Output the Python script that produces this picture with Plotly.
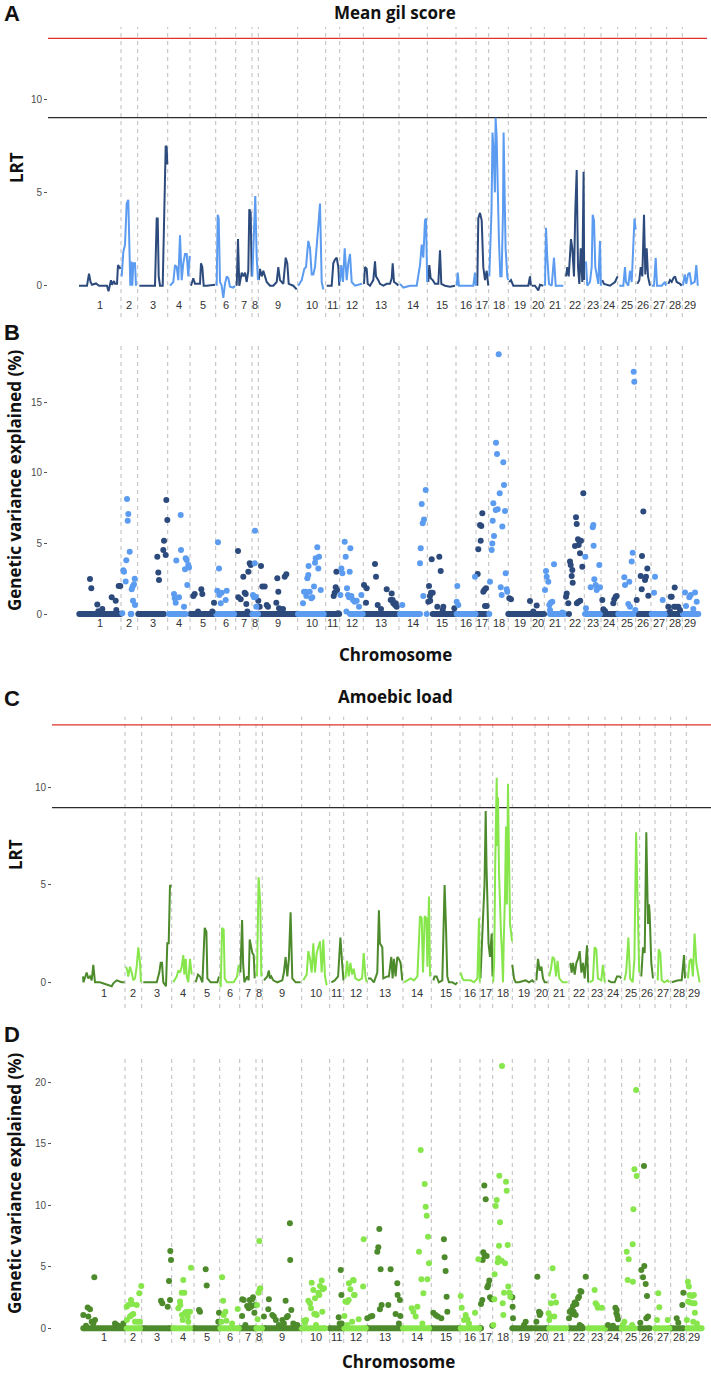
import plotly.graph_objects as go

# ---------------- data ----------------
chrom_names = ["1", "2", "3", "4", "5", "6", "7", "8", "9", "10", "11", "12", "13", "14", "15",
               "16", "17", "18", "19", "20", "21", "22", "23", "24", "25", "26", "27", "28", "29"]
chrom_lengths = [42, 16.7, 30, 22.3, 25.7, 20, 16.3, 6.3, 39.4, 28, 14, 23.6, 35.7, 28.3, 28.7,
                 20, 12.7, 19.6, 22.7, 13.3, 20.7, 19.3, 16.7, 16.7, 18, 15.3, 15.7, 15.6, 15.7]
chrom_shade = [0, 1, 0, 1, 0, 1, 0, 1, 0, 1, 0, 1, 0, 1, 0, 1, 0, 1, 0, 0, 1, 0, 1, 0, 1, 0, 1, 0, 1]

gill_thresholds = [13.25, 9.0]
amoeba_thresholds = [13.22, 8.97]

# Panel A: LRT, mean gill score  (position within chromosome, LRT)
gill_lrt = [
    [(0, 0), (8, 0), (10, 0.65), (11.5, 0.2), (13, 0.05), (17, 0.12), (20, 0), (28, 0), (29.5, -0.3), (31, 0.05), (32, 0.3), (33, 0.05), (35, 0.25), (36, 0.1), (38, 0.1), (39, 1.1), (40.5, 1.0), (41.5, 0.9)],
    [(0.7, 0.5), (2.3, 1.8), (4, 2.2), (5.7, 4.4), (7.3, 4.6), (8.3, 1.3), (9.3, 0), (10.3, 1.3), (11.3, 0), (12.3, 1.2), (14, 1.2), (15, 0)],
    [(1.6, 0), (17.3, 0), (19, 3.6), (20, 3.6), (21, 0.5), (22.3, 0), (25, 0), (26.3, 3.2), (28, 7.5), (29, 7.4), (29.6, 6.5)],
    [(2.3, 0), (5.6, 0.2), (7.3, 1.1), (9, 1.0), (10.6, 0.3), (12.3, 2.7), (14, 0.3), (15.6, 1.2), (17.3, 1.7), (19, 1.7), (20.6, 0.5), (22, 1.6)],
    [(1, 0), (3.3, 0.4), (5, 0.1), (10, 0.1), (11, 1.2), (12.3, 1.0), (13.7, 0), (16.7, 0), (25, 0.05)],
    [(1, 0), (2, 3.8), (3, 3.6), (4.3, 0.2), (6, 0), (7.6, -0.65), (9.3, 0.1), (11, 0.5), (12.6, 0.4), (14.3, -0.05), (17.6, -0.1), (19.3, 0)],
    [(1, 0), (2.3, 2.5), (3.6, 0), (6, 0.7), (7.6, 0.5), (9.3, 0.7), (11, 0.2), (12.6, 0.8), (13.6, 4.1), (15, 3.9), (16, 0.5)],
    [(0.3, 0.5), (1.3, 2.0), (2.3, 3.5), (3.3, 4.8), (4.7, 1.5), (6, 0.3)],
    [(0.4, 0.3), (1.7, 0.9), (3.4, 0.5), (5, 0.8), (6.7, 0.5), (8.4, 0.2), (11.7, 0), (15, 0), (18.4, 0.2), (20, 1.0), (21.7, 0.3), (23.4, 0.2), (25, 0.1), (27.4, 1.5), (29, 1.2), (30.4, 0.1), (35, 0), (38.4, -0.2)],
    [(0.6, 0), (4, 0.3), (6.6, 0.9), (8.3, 1.0), (10.6, 2.4), (12.3, 2.0), (14, 0.6), (15.6, 0.6), (17.3, 1.0), (19, 2.0), (20.6, 3.2), (22.3, 4.4), (24, 0.2), (25.6, -0.2)],
    [(1, 0), (6, 0), (7.6, 1.2), (9.3, 1.4), (11, 1.5), (12.6, 1.0), (13.6, 0)],
    [(0.3, 0.2), (1.6, 1.1), (3.3, 0.2), (5, 2.0), (7, 0.3), (8.6, 1.2), (10.3, 1.7), (12, 0.2), (15.3, 0), (20.3, 0.1), (22.3, 0.1)],
    [(0.7, 0.1), (1.7, 1.0), (3.4, 0.9), (4.4, 0.1), (6.7, 0), (10, 0.3), (11.7, 1.3), (12.7, 0.5), (15, 0.3), (16.7, 0.1), (20, 0), (23.4, 0.1), (26.7, 0.1), (28.4, 0.4), (29.4, 1.2), (30.7, 0.2), (33.4, 0.1), (35, 0)],
    [(1, 0.1), (4.3, -0.1), (11, 0), (17.7, 0), (21, 1.1), (22.7, 2.2), (24.3, 1.5), (26, 3.5), (27, 3.6), (28.2, 0.2)],
    [(1, 0.2), (2, 1.1), (3.4, 0.4), (5.4, 0.3), (7.7, 0.1), (11, 0.1), (12.7, 1.9), (14, 0.1), (17.7, 0), (22.7, -0.05), (27.7, 0)],
    [(0.7, 0), (1.7, 0.7), (3, 0), (7.3, 0), (17.3, 0), (19, 0.7), (19.8, 0)],
    [(1.3, 0), (2.3, 3.6), (4, 3.9), (5.7, 3.5), (7.3, 1.0), (9, 0.3), (10.7, 0.8), (12.3, 0)],
    [(0.6, 0.5), (2.8, 4.0), (3.8, 8.2), (4.8, 7.3), (6.2, 5.0), (6.9, 9.0), (7.9, 8.0), (9.2, 4.0), (10.2, 2.5), (11.6, 0.5), (12.9, 0.5), (14.3, 4.0), (14.9, 8.2), (15.9, 5.0), (16.9, 2.0), (18.6, 0.5), (19.4, 0.3)],
    [(1, 0.2), (2.7, 0.3), (5, 0), (8.4, 0), (15, 0), (20, 0), (21.7, 0.5), (22.6, 0)],
    [(0.7, 0), (4, 0), (7.3, -0.25), (9, 0.05), (12.3, 0)],
    [(0.7, 0), (1.7, 3.1), (3, 1.5), (4.7, 0.1), (7.4, 0), (9.7, 1.5), (11.4, 0), (14, 0), (19, 0)],
    [(1, 0.5), (2.3, 1.0), (3.7, 0.5), (5, 1.5), (6, 2.5), (7.3, 2.0), (9, 0.5), (10.3, 4.0), (11.7, 6.2), (13, 1.0), (14.3, 0.1), (15.7, 2.0), (17.3, 0.2), (18.6, 6.1), (19.2, 0.3)],
    [(1.7, 1.3), (3, 0), (5.7, 0.2), (7.4, 1.0), (8.4, 3.8), (9.7, 3.5), (11, 1.0), (12.4, 0.5), (14, 0.1), (15.7, 2.4), (16.6, 0)],
    [(1.3, 0.3), (3, 0.1), (9, 0), (14, 0.2), (16.6, 0.5)],
    [(1.6, 0), (5.6, 0), (7.3, 1.0), (8.3, 0.2), (10.6, 0), (12.3, 0.8), (14, 0.2), (15.6, 2.5), (16.8, 3.6), (17.9, 3.0)],
    [(1.6, 0.1), (3.6, 0.3), (5, 1.0), (6.6, 0.5), (8.3, 3.8), (9.6, 0.6), (11, 2.0), (12.3, 0.5), (14.3, 0)],
    [(0.7, 0), (3, 0), (4.7, 1.5), (6, 0), (10.7, 0), (14, 0.2), (15, 0)],
    [(1.6, 0.1), (3.3, 0.3), (5, 0.2), (6.6, 0.4), (8.3, 0.5), (10, 0.2), (13.3, 0.1), (15, 0)],
    [(0.7, 0), (2.4, 0.6), (4, 0.1), (5.7, 0.6), (7.4, 0.7), (9, 0.1), (12.4, 0.2), (14, 1.1), (15.5, 0)],
]

# Panel B: genetic variance explained (%), gill score
gill_var = [
    [(11, 2.48), (12.3, 1.82), (18.3, 0.68), (19.3, 0.2), (23.3, 0.35), (32.7, 1.18), (36.7, 0.94), (37.3, 0.28), (39.7, 1.98), (41.3, 1.98)],
    [(1.3, 0.05), (2.3, 3.1), (3, 3.0), (4.7, 2.3), (5.3, 3.8), (6, 8.15), (6.7, 6.6), (7.3, 7.08), (8.7, 4.4), (10, 0), (10.7, 1.75), (11.7, 1.94), (12, 0.94), (13, 2.1), (13.7, 2.5), (14, 0.64)],
    [(19.6, 4.06), (20.6, 2.93), (21.3, 2.41), (25.6, 4.53), (26.3, 5.19), (28, 4.18), (28.6, 8.07), (29.6, 6.66)],
    [(6.3, 1.42), (7, 1.11), (8, 0.8), (8.6, 3.78), (11.3, 1.18), (13, 7.01), (13.3, 4.53), (16.3, 0.52), (17.3, 3.16), (18, 3.94), (19, 3.82), (19.6, 2.05), (20.6, 3.47), (21.3, 3.3)],
    [(3.3, 1.27), (4.7, 1.42), (8, 0.17), (11.3, 1.75), (12.3, 1.42), (22.3, 0.17), (24, 0.8)],
    [(1.6, 1.65), (2.3, 5.08), (3.3, 3.23), (3.6, 1.35), (5, 0.76), (6, 1.51), (10, 1.0), (11, 1.65)],
    [(2.3, 4.46), (2.6, 1.18), (5, 1.04), (7.6, 2.64), (9, 1.51), (10, 1.42), (10.6, 0.71), (11.6, 0.17), (12.6, 3.0), (14, 3.59), (15, 3.47)],
    [(1, 1.35), (2, 1.18), (2.7, 3.59), (3, 5.9), (3.7, 1.23), (4.3, 0.52)],
    [(0, 0.94), (1.4, 0.52), (2.7, 3.4), (4, 1.94), (6.4, 1.94), (8.4, 0.64), (9.7, 0.52), (18, 0.8), (19, 2.53), (20, 1.58), (20.7, 0.4), (24.7, 0.35), (26.4, 2.64), (28, 2.81)],
    [(5.3, 0.76), (6.3, 1.58), (8, 1.58), (8.6, 1.27), (9.6, 2.53), (10.6, 2.76), (10.9, 3.4), (12, 1.58), (13.6, 1.11), (14.6, 1.18), (16.3, 1.94), (17.3, 3.63), (18, 3.94), (19.6, 4.72), (20.6, 3.23), (21.3, 4.06), (23, 1.7)],
    [(8, 1.27), (9, 1.51), (10, 1.89), (10.7, 3.0), (11.3, 1.7), (12.3, 0.05)],
    [(0.7, 1.35), (1.7, 3.23), (2.7, 2.88), (5, 5.12), (6, 4.06), (6.7, 0.17), (7.3, 1.82), (8.3, 1.35), (9.3, 1.18), (10, 3.0), (10.7, 4.65), (11.7, 1.27), (13.3, 1.0), (15, 0.87), (17, 0.94), (19.3, 0.52), (21.7, 1.35)],
    [(0.7, 2.05), (2.7, 0.8), (3.4, 1.82), (11.7, 3.54), (12.7, 2.64), (14.4, 0.64), (17.7, 0.35), (23.4, 1.75), (27.4, 1.0), (28.4, 1.46), (29.4, 1.0), (30, 0.76), (31.7, 0.64), (32.4, 0.76), (33.4, 0.52)],
    [(3.3, 0.64), (21, 3.59), (21.7, 4.65), (22.7, 7.79), (23.7, 6.42), (24.3, 1.27), (25, 6.7), (26.7, 8.78), (27.7, 0)],
    [(1, 0.87), (1.7, 1.98), (2.7, 1.27), (2.9, 0.94), (3.7, 1.51), (4.4, 3.87), (5.4, 1.51), (10, 0.52), (12, 4.06), (13.4, 3.05), (15.4, 0.28), (16, 0.52), (27, 0.4)],
    [(0.7, 0.87), (1.3, 1.98), (2.3, 0.64), (19, 2.64)],
    [(1.7, 2.83), (2.3, 4.58), (4, 6.3), (4.7, 5.19), (5.3, 6.23), (6.3, 7.13), (7.3, 1.58), (8.3, 1.7), (9, 0.57), (10, 1.82), (10.7, 0.57)],
    [(0.6, 0), (1.3, 2.29), (3, 4.53), (3.6, 5.0), (4, 6.6), (4.6, 7.84), (5.3, 5.52), (7, 7.37), (7.3, 12.13), (8.3, 11.33), (9, 7.41), (10, 18.39), (11, 8.55), (12, 1.89), (13, 1.35), (13.6, 6.19), (14.6, 10.74), (15.3, 9.14), (16.3, 7.29), (17, 2.88), (18, 1.75), (18.6, 1.58)],
    [(1, 1.11), (2.7, 1.04), (21.7, 0.92)],
    [(2.3, 0.17), (5.7, 0.61)],
    [(0.7, 1.7), (1.7, 3.05), (2.4, 2.64), (4, 2.29), (5, 0.64), (5.7, 0.28), (6.4, 0.8), (8, 0.87), (9.7, 3.52), (18, 0.1)],
    [(1, 1.23), (1.7, 1.46), (3.3, 0.76), (4, 0), (5, 3.71), (5.7, 3.47), (6.7, 2.69), (7.3, 3.12), (7.7, 2.22), (10, 4.82), (11, 6.85), (11.7, 6.37), (11.9, 0.76), (13, 5.29), (13.3, 0.85), (13.7, 4.89), (14.3, 5.19), (15, 4.3), (15.2, 0.94), (16, 5.19), (17.3, 3.35), (18.3, 8.55)],
    [(1, 4.06), (1.7, 0.4), (6.4, 1.89), (8.4, 6.14), (9, 6.3), (9.3, 4.84), (10, 2.46), (11.4, 2.05), (12.4, 1.7), (15, 3.47), (15.7, 1.89)],
    [(1.3, 1.0), (2.3, 0.33), (4, 0.21), (12.3, 0.76), (13.3, 1.04), (14.7, 1.23), (15.7, 1.27)],
    [(6.6, 2.6), (7.3, 2.05), (10.6, 0.71), (11.6, 2.29), (12.3, 0.52), (14, 3.71), (15, 4.34), (16, 17.16), (16.6, 16.45), (17.6, 0.28)],
    [(1, 1.0), (5, 2.69), (6, 1.75), (6.3, 4.1), (7.6, 7.25), (9.3, 2.41), (10.3, 2.64), (11.6, 3.23), (12.6, 1.3)],
    [(3, 1.51), (4, 2.64), (11.7, 1.0)],
    [(1.6, 0.52), (3.3, 0.17), (4, 1.23), (5, 1.23), (7.3, 0.52), (8, 1.87), (9.3, 0.52), (11.6, 0.52), (13.3, 0.28)],
    [(2.7, 1.53), (3.7, 0.57), (7, 1.18), (8.4, 1.35), (11, 0.35), (12.7, 1.53), (14.4, 0.87)],
]
# stretches of loci with 0 % explained (start, end within chromosome)
gill_zero_runs = [(0.3, 41.5), (9.7, 10.3), (0.6, 26.3), (1.3, 18), (0.5, 24.5), (0.5, 18.3), (0.5, 15), (0.3, 6),
                  (0.3, 39), (0.3, 26), (0.7, 13.5), (10.3, 23), (0.7, 33.4), (1, 21), (5.4, 27.7), (0.7, 19.5),
                  (1.5, 10), None, (0, 22), (0.7, 13), (5.7, 20.7), None, (0.7, 15.7), (0, 16.7), (0.6, 15.6),
                  (1.6, 14), (0.7, 14), (0.3, 15), (0.7, 16)]

# Panel C: LRT, amoebic load
amoeba_lrt = [
    [(0, 0.3), (0.5, 0), (3.7, 0.5), (5.3, 0.2), (7, 0.3), (8.7, 0.1), (10.3, 0.9), (12, 0), (17, 0), (23.7, -0.1), (28.7, -0.2), (30.3, -0.05), (33.7, 0.1), (38.7, 0), (41.5, 0)],
    [(1, 0.8), (2.3, 0.6), (3.3, 0.3), (5, 0.8), (6.7, 0.5), (8.3, 0.1), (10, 0.2), (11.7, 0.8), (13.3, 1.8), (15, 1.0), (16, 0)],
    [(1.6, 0), (8.3, 0), (15, 0), (17.6, 0.5), (19, 1.0), (20.3, 1.0), (21.6, 0), (24.3, -0.2), (25.6, 2.0), (27, 2.0), (28.3, 5.0), (29.3, 4.9)],
    [(1.6, 0), (5, 0.3), (6.6, 0.6), (8.3, 0.5), (10, 0.8), (11.6, 1.4), (12.6, 0.4), (14, 1.2), (15, 0.3), (16.6, 0), (18.3, 1.2), (20, 0.4)],
    [(1.7, 0), (4, 0.4), (6, 0.3), (8.4, 0), (10.7, 2.8), (12.4, 2.6), (13.4, 0.2), (16.7, 0), (23.4, 0), (25, 0.3)],
    [(0.4, 0), (1, -0.25), (2.4, 2.8), (4, 2.7), (5, 0.2), (7.4, 0), (14, 0), (17.4, 0.3), (19, 0.9)],
    [(0.7, 0.5), (2.4, 3.2), (3.4, 1.0), (4.7, 0), (7.4, 0.3), (9, 0.1), (10, 2.2), (11.4, 1.8), (12.7, 1.5), (14, 1.4), (15, 0.2)],
    [(1, 0.3), (2.6, 5.4), (4.3, 4.0), (5.3, 0.3)],
    [(1.6, 0.1), (5, 0.3), (6.6, 0.6), (7.6, 0.2), (9, 0.3), (11, 0.1), (15, 0), (20, 0.1), (21.6, 0.5), (23.3, 1.3), (25, 0.3), (26.6, 1.2), (28.3, 3.6), (30, 0.2), (33.3, 0), (38.3, 0)],
    [(1.6, 0.1), (5, 0.4), (6.6, 1.6), (8.3, 1.2), (10, 0.5), (11.6, 2.0), (13.3, 0.5), (15, 1.5), (16.6, 1.8), (18.3, 2.1), (20, 0.5), (21.6, 2.2), (23.3, 0.3), (25, -0.15)],
    [(1.7, 0), (5, 0.1), (8.4, 0.3), (10.7, 2.3), (12.4, 1.0), (13.8, 0.1)],
    [(1.7, 0.2), (3.4, 1.1), (5, 0.3), (6.7, 1.0), (8.4, 0.4), (10, 0.7), (11.7, 0.2), (15, 0.1), (18.4, 0.2), (20, 1.5), (21.7, 0.3), (23, 0)],
    [(0.6, 0.2), (3.3, 0.2), (6.6, 0), (10, 0.5), (11.6, 3.7), (12.6, 2.0), (15, 1.8), (16, 0.2), (20, 0.3), (21.6, 0.3), (24, 1.3), (25.3, 0.2), (26.6, 1.2), (28.3, 0.3), (30, 1.3), (31.6, 1.2), (33.3, 1.0), (35, 0.1)],
    [(1, 0), (4.4, 0.1), (7.7, 0.2), (11, 0.1), (14.4, 0.3), (17, 3.4), (18.7, 3.3), (20, 0.5), (21.7, 3.4), (23.4, 3.3), (24.4, 0.8), (26, 4.4), (27, 0.3)],
    [(2, 0.1), (3.3, 0.3), (5.3, 0.3), (7.6, 0), (11, 0.1), (13.3, 5.0), (14.6, 3.0), (16, 0.3), (17.6, 0), (21, 0), (24.3, -0.1), (26, 0)],
    [(0.7, 0.5), (2.4, 0.2), (4, 0.1), (7.4, 0.1), (10.7, 0.1), (14, 0), (17.4, 0.2), (19, 3.3), (19.8, 0)],
    [(0.5, 0.2), (1.5, 1.2), (3, 3.3), (4.5, 5.0), (5.7, 8.8), (6.5, 6.0), (7.5, 3.8), (8.5, 2.0), (10, 1.3), (11.7, 2.5), (12.5, 0.3)],
    [(0.5, 0), (1.5, 1.0), (2.5, 6.0), (3.3, 9.0), (4, 10.5), (4.7, 7.0), (5.3, 9.5), (6.3, 5.6), (7.3, 3.5), (8.3, 2.5), (9.3, 1.5), (10.3, 0), (11, 2.0), (12.3, 4.5), (13.3, 8.0), (14.2, 4.0), (15.3, 10.2), (16.3, 6.0), (17.3, 3.0), (18.3, 2.6), (19.3, 2.1)],
    [(0, 0.9), (1.7, 0.2), (3.4, 0), (6.7, 0), (10, 0.05), (13.4, 0.1), (16.7, 0), (20, 0.1), (21.7, 0)],
    [(1.4, 0.1), (3, 1.2), (4.7, 0.6), (6.4, 0.8), (8, 0.2), (9.7, 0), (12.5, 0)],
    [(1, 0.3), (2.7, 0.7), (4.3, 1.3), (6, 1.2), (7.7, 0.3), (9.3, 1.1), (11, 0.2), (14.3, 0), (19.3, 0)],
    [(1.4, 1.0), (2.7, 0.5), (4, 1.0), (5.7, 0.4), (7.4, 1.0), (9, 1.2), (10.7, 1.6), (12.4, 0.5), (14, 1.0), (15.7, 0.2), (18, 1.9), (19.2, 0)],
    [(1.3, 0), (4.6, 0.1), (6.3, 1.8), (8, 1.7), (9.6, 0.2), (13, 0.1), (14.6, 0.9), (15.6, 0.2), (16.5, 0)],
    [(3, 0.1), (6.4, 0), (9.7, 0), (12, 0.3), (13.4, 0.3), (14.7, 0.3), (16.4, 0.2)],
    [(2.7, 0.1), (4.4, 0.5), (6.7, 2.3), (8.4, 0.2), (11, 0), (12.7, 1.2), (14.4, 7.7), (16, 4.0), (17.5, 0.5)],
    [(1.6, 0.3), (3.3, 1.8), (5, 1.5), (6.6, 7.7), (8.3, 3.0), (9.3, 4.0), (10, 3.5), (11.6, 1.0), (13.3, 0.2)],
    [(2.7, 0.1), (3.7, 1.7), (5.3, 1.5), (6.7, 0.1), (9.3, 0), (12.7, 0.1), (14.3, 0)],
    [(1, 0), (4.3, 0.05), (7.6, 0.1), (11, 0.1), (13.3, 1.4), (14.3, 0.2)],
    [(1.6, 0.2), (3.3, 1.1), (5, 1.2), (6.6, 0.3), (8.3, 2.5), (10, 1.0), (11.6, 0.5), (13.3, 0)],
]

# Panel D: genetic variance explained (%), amoebic load
amoeba_var = [
    [(0.3, 1.08), (3, 0.2), (4.7, 1.7), (5.3, 0.95), (7, 1.55), (8.7, 0.54), (10.3, 0.4), (11.3, 4.15), (12, 0.68), (32, 0.4), (33.7, 0.27), (35.3, 0.2), (40.3, 0.4)],
    [(1.7, 1.76), (1.9, 0.68), (3.3, 1.9), (5, 0.95), (6, 2.3), (6.7, 1.08), (7.3, 1.98), (8.3, 1.17), (10, 0.54), (11.7, 1.9), (12.7, 0.54), (14.3, 2.85), (15, 0.54), (16.3, 3.44)],
    [(19.3, 2.25), (20.6, 2.03), (26, 1.76), (27.3, 3.85), (28.3, 2.3), (28.6, 6.29), (29.3, 5.56)],
    [(6.6, 1.63), (8.3, 2.17), (8.6, 1.9), (10, 2.9), (10.3, 1.08), (11, 0.68), (11.6, 3.93), (12.6, 2.9), (13.3, 1.27), (15, 1.35), (16, 0.95), (16.6, 0.54), (18.3, 1.35), (19.3, 4.93)],
    [(5, 1.49), (6, 1.35), (11.7, 4.8), (12.7, 3.47), (24.3, 0.54), (25, 1.27)],
    [(1.7, 0.54), (2.4, 4.15), (3.4, 2.25), (4, 1.08), (5.7, 1.35), (6.7, 0.62), (12.4, 0.4), (18, 1.57)],
    [(2.4, 1.0), (2.6, 2.36), (4, 2.3), (5.7, 0.27), (7.4, 1.82), (9, 1.63), (10, 2.3), (10.7, 1.9), (11.4, 1.76), (12.4, 2.36), (13.4, 2.52), (14.7, 1.27), (15.7, 1.9)],
    [(1, 1.9), (1.6, 0.73), (2.6, 2.9), (3.3, 7.1), (3.6, 3.17), (4.3, 3.25)],
    [(1.6, 0.95), (6, 1.55), (6.6, 2.36), (10, 1.08), (11.6, 0.95), (13.6, 0.68), (16.6, 0.27), (20, 0.68), (21.6, 0.4), (23.3, 2.25), (24.3, 0.9), (25.6, 1.0), (27.6, 8.54), (27.9, 5.56), (29, 1.49), (31, 0.4), (31.6, 0.27), (33.3, 0.27), (35, 0.27)],
    [(2.3, 0.62), (3.3, 0.46), (4.3, 0.68), (6.6, 2.25), (8.3, 2.03), (9.3, 1.63), (10, 3.71), (11.6, 3.12), (12.6, 1.17), (13.3, 2.44), (14, 1.17), (14.3, 0.27), (15, 1.08), (16.6, 2.9), (17.6, 2.71), (18.3, 3.44), (20, 3.88), (20.6, 1.35), (21, 3.17), (22.3, 3.25)],
    [(9, 0.9), (10, 0.4), (11, 4.74), (11.7, 2.71), (12, 0.4)],
    [(0.7, 1.0), (1.7, 2.17), (3.4, 2.14), (3.6, 0.27), (5, 2.3), (5.2, 3.66), (6.7, 3.17), (8.4, 0.54), (9.4, 3.93), (10, 3.88), (10.3, 2.71), (11, 2.71), (15, 0.73), (19.4, 3.39), (20, 7.24)],
    [(0, 0.81), (3.3, 0.95), (5, 1.0), (10, 6.23), (11, 6.59), (12, 8.08), (12.6, 1.55), (13.3, 4.8), (14.3, 1.9), (21, 1.9), (23.3, 4.8), (28.3, 1.17), (30, 3.66), (30.3, 2.71), (31.6, 0.4), (32.6, 2.3), (33, 1.0)],
    [(8.7, 1.63), (10.4, 1.35), (12.7, 0.95), (14.4, 1.76), (16, 6.23), (17.7, 14.5), (18.4, 3.98), (19.4, 0.4), (20.4, 2.85), (21.7, 11.73), (22.7, 9.89), (23.7, 9.16), (24.4, 3.98), (25, 7.45), (26, 5.28)],
    [(2, 1.27), (4.3, 1.08), (6.6, 0.95), (10, 0.81), (12.6, 7.24), (13.3, 5.77), (14.3, 4.66), (15.3, 2.57), (16, 1.35)],
    [(0.7, 2.63), (1.7, 1.68), (4, 0.68), (5.7, 1.08), (7.4, 0.73), (9, 0.4), (15, 1.27), (18.4, 5.61)],
    [(1, 1.98), (2.3, 2.3), (2.7, 5.56), (3.3, 6.18), (4.3, 11.6), (4.5, 5.96), (5.7, 10.49), (6.7, 5.88), (7.3, 3.33), (8.3, 3.52), (9.3, 3.88), (10, 2.52), (11.7, 2.36), (12.3, 0.2)],
    [(0.6, 0.27), (1.6, 2.36), (1.9, 4.39), (3, 9.95), (4, 10.43), (5, 5.37), (5.6, 5.69), (6.3, 6.72), (6.6, 12.41), (7.3, 8.62), (9, 5.5), (9.3, 21.33), (10, 2.03), (10.6, 1.08), (11.3, 2.9), (12.3, 5.28), (13.3, 11.92), (14, 11.19), (15, 6.78), (15.6, 3.39), (16.6, 2.9), (17.6, 2.57)],
    [(0, 2.52), (0.3, 1.76), (0.7, 0.81), (11.7, 0.27), (13.4, 0.54)],
    [(1.4, 0.54), (2.4, 4.2), (4, 1.35), (4.7, 1.08), (5.4, 1.22)],
    [(0.3, 1.22), (1, 0.68), (2, 0.95), (2.7, 2.03), (4.3, 4.88), (5.3, 2.63), (6, 0.95), (7.7, 2.09)],
    [(0, 0.81), (0.7, 1.35), (2.4, 1.49), (3.4, 1.17), (4, 1.82), (4.7, 1.35), (5.7, 2.09), (6.7, 1.08), (7.4, 1.98), (9, 2.44), (10, 2.57), (10.7, 0.27), (11.4, 3.04), (12.4, 2.98), (12.7, 0.14), (16.7, 4.2)],
    [(6.3, 3.12), (7.3, 2.03), (8.6, 1.9), (9.6, 1.68), (13.6, 1.68)],
    [(3, 0.27), (8, 0.2), (10.4, 1.68), (11.4, 1.22), (11.7, 1.49), (12.4, 1.0), (13, 0.73)],
    [(1, 0.27), (2.7, 0.54), (5, 6.23), (6, 3.93), (7, 5.61), (10.4, 0.27), (11, 6.83), (11.2, 3.79), (11.7, 9.67), (12.7, 12.93), (14.4, 19.38), (15, 12.38)],
    [(0.6, 0.46), (1.6, 4.74), (3.3, 4.15), (4.3, 13.2), (4.6, 5.07), (6, 3.6), (6.6, 0.81), (7.3, 2.63), (8.3, 0.95)],
    [(2, 0.68), (3.3, 2.85), (4.3, 1.71), (12.7, 0.68)],
    [(6, 0.81), (7.6, 0.46), (11.6, 1.9), (12.6, 2.9)],
    [(0.6, 0.68), (1.6, 3.79), (1.9, 2.17), (2.6, 3.39), (3.3, 2.71), (3.6, 2.09), (6, 2.63), (6.6, 2.03), (6.9, 0.54), (7.6, 2.71), (8.3, 2.03), (8.6, 1.27), (10.6, 0.4)],
]
amoeba_zero_runs = [(0.3, 42), (1.7, 15), (1.6, 28.3), (1.7, 18.3), (0, 25), (0.7, 19), (0.7, 15.7), (0.5, 6),
                    (1.6, 39), (0, 23.3), (0, 14), (0.7, 22), (0, 33.3), (0, 26), (0, 27.7), (0.7, 19),
                    (0, 1), None, (0, 20), (0, 12), (1, 17.7), (0.7, 14), (0, 16.7), (0, 16.4), (0, 13),
                    (0, 10), (0, 14.3), (0, 12.6), (1.3, 15.3)]

# ---------------- geometry / style ----------------
W, H = 711, 1374
BLUES = ["#2C4A7C", "#5B9BF0"]
GREENS = ["#4C8A2B", "#86E64B"]

starts = []
acc = 0.0
for L in chrom_lengths:
    starts.append(acc)
    acc += L
mids = [s + L / 2 for s, L in zip(starts, chrom_lengths)]
XRANGE = [-31, 628]


def py(px):
    return 1 - px / H


panels = [
    dict(ax="", xpx=(48, 707), ypx=(27, 317), yr=(-1.676, 13.857), ticks=[0, 5, 10], lab_px=305),
    dict(ax="2", xpx=(48, 707), ypx=(342, 630), yr=(-1.133, 19.26), ticks=[0, 5, 10, 15], lab_px=623),
    dict(ax="3", xpx=(52, 711), ypx=(716.7, 1008), yr=(-1.32, 13.64), ticks=[0, 5, 10], lab_px=993),
    dict(ax="4", xpx=(52, 711), ypx=(1057.7, 1343), yr=(-1.195, 22.0), ticks=[0, 5, 10, 15, 20], lab_px=1337),
]

fig = go.Figure()


def add_lines(data, p, colors):
    for shade in (0, 1):
        xs, ys = [], []
        for i, pts in enumerate(data):
            if chrom_shade[i] != shade:
                continue
            for pos, v in pts:
                xs.append(starts[i] + pos)
                ys.append(v)
            xs.append(None)
            ys.append(None)
        fig.add_trace(go.Scatter(x=xs, y=ys, mode="lines",
                                 line=dict(color=colors[shade], width=2),
                                 xaxis="x" + p["ax"], yaxis="y" + p["ax"],
                                 hoverinfo="skip", showlegend=False))


def add_points(data, runs, p, colors):
    for shade in (0, 1):
        xs, ys = [], []
        for i, r in enumerate(runs):
            if r is None or chrom_shade[i] != shade:
                continue
            xs += [starts[i] + r[0], starts[i] + r[1], None]
            ys += [0, 0, None]
        fig.add_trace(go.Scatter(x=xs, y=ys, mode="lines+markers",
                                 line=dict(color=colors[shade], width=6),
                                 marker=dict(color=colors[shade], size=6),
                                 xaxis="x" + p["ax"], yaxis="y" + p["ax"],
                                 hoverinfo="skip", showlegend=False))
    for shade in (0, 1):
        xs, ys = [], []
        for i, pts in enumerate(data):
            if chrom_shade[i] != shade:
                continue
            for pos, v in pts:
                xs.append(starts[i] + pos)
                ys.append(v)
        fig.add_trace(go.Scatter(x=xs, y=ys, mode="markers",
                                 marker=dict(color=colors[shade], size=6, line=dict(width=0)),
                                 xaxis="x" + p["ax"], yaxis="y" + p["ax"],
                                 hoverinfo="skip", showlegend=False))


add_lines(gill_lrt, panels[0], BLUES)
add_points(gill_var, gill_zero_runs, panels[1], BLUES)
add_lines(amoeba_lrt, panels[2], GREENS)
add_points(amoeba_var, amoeba_zero_runs, panels[3], GREENS)

TICKFONT = dict(family="Liberation Sans, Arial", size=10, color="#4D4D4D")
layout = dict(width=W, height=H, autosize=False, margin=dict(l=0, r=0, t=0, b=0, pad=0),
              paper_bgcolor="white", plot_bgcolor="white", showlegend=False)
shapes, annotations = [], []

for p in panels:
    a = p["ax"]
    layout["xaxis" + a] = dict(domain=[p["xpx"][0] / W, p["xpx"][1] / W], range=XRANGE,
                               showgrid=False, zeroline=False, showline=False, automargin=False,
                               showticklabels=False, ticks="", anchor="y" + a, fixedrange=True)
    layout["yaxis" + a] = dict(domain=[py(p["ypx"][1]), py(p["ypx"][0])], range=list(p["yr"]),
                               tickvals=p["ticks"], ticks="outside", ticklen=3, tickwidth=1,
                               tickcolor="#555555", tickfont=TICKFONT, showgrid=False, automargin=False,
                               zeroline=False, showline=False, anchor="x" + a, fixedrange=True)
    # chromosome boundaries
    for i in range(1, len(starts)):
        shapes.append(dict(type="line", xref="x" + a, yref="y" + a + " domain",
                           x0=starts[i], x1=starts[i], y0=0, y1=1, layer="below",
                           line=dict(color="#BDBDBD", width=1, dash="4px,4px")))
    for i, name in enumerate(chrom_names):
        annotations.append(dict(x=mids[i], y=py(p["lab_px"]), xref="x" + a, yref="paper",
                                text=name, showarrow=False, yanchor="middle",
                                font=dict(family="Liberation Sans, Arial", size=11, color="#333333")))

for p, thr in ((panels[0], gill_thresholds), (panels[2], amoeba_thresholds)):
    a = p["ax"]
    for thv, col in zip(thr, ["#E0302A", "#2B2B2B"]):
        shapes.append(dict(type="line", xref="x" + a + " domain", yref="y" + a,
                           x0=0, x1=1, y0=thv, y1=thv, layer="below",
                           line=dict(color=col, width=1.3)))

TITLEFONT = dict(family="Open Sans", size=17, color="#111111")
LETTERFONT = dict(family="Liberation Sans, Arial", size=22, color="#111111")


def txt(x, y, s, font, angle=0):
    annotations.append(dict(x=x / W, y=py(y), xref="paper", yref="paper", text=s,
                            showarrow=False, font=font, textangle=angle,
                            xanchor="center", yanchor="middle"))


txt(12, 14, "<b>A</b>", LETTERFONT)
txt(12, 333, "<b>B</b>", LETTERFONT)
txt(12, 698, "<b>C</b>", LETTERFONT)
txt(12, 1034, "<b>D</b>", LETTERFONT)
txt(395, 12, "<b>Mean gil score</b>", TITLEFONT)
txt(395, 696, "<b>Amoebic load</b>", TITLEFONT)
txt(17, 168, "<b>LRT</b>", TITLEFONT, -90)
txt(15, 480, "<b>Genetic variance explained (%)</b>", TITLEFONT, -90)
txt(16, 855, "<b>LRT</b>", TITLEFONT, -90)
txt(14, 1183, "<b>Genetic variance explained (%)</b>", TITLEFONT, -90)
txt(395, 654, "<b>Chromosome</b>", TITLEFONT)
txt(398, 1361, "<b>Chromosome</b>", TITLEFONT)

layout["shapes"] = shapes
layout["annotations"] = annotations
fig.update_layout(**layout)
# remove the browser's default 8px page margin so the figure sits at the window origin
fig.write_html("out.html",
               config={"displayModeBar": False, "staticPlot": True},
               post_script="document.body.style.margin='0';document.body.style.padding='0';"
                           "document.body.style.overflow='hidden';")
